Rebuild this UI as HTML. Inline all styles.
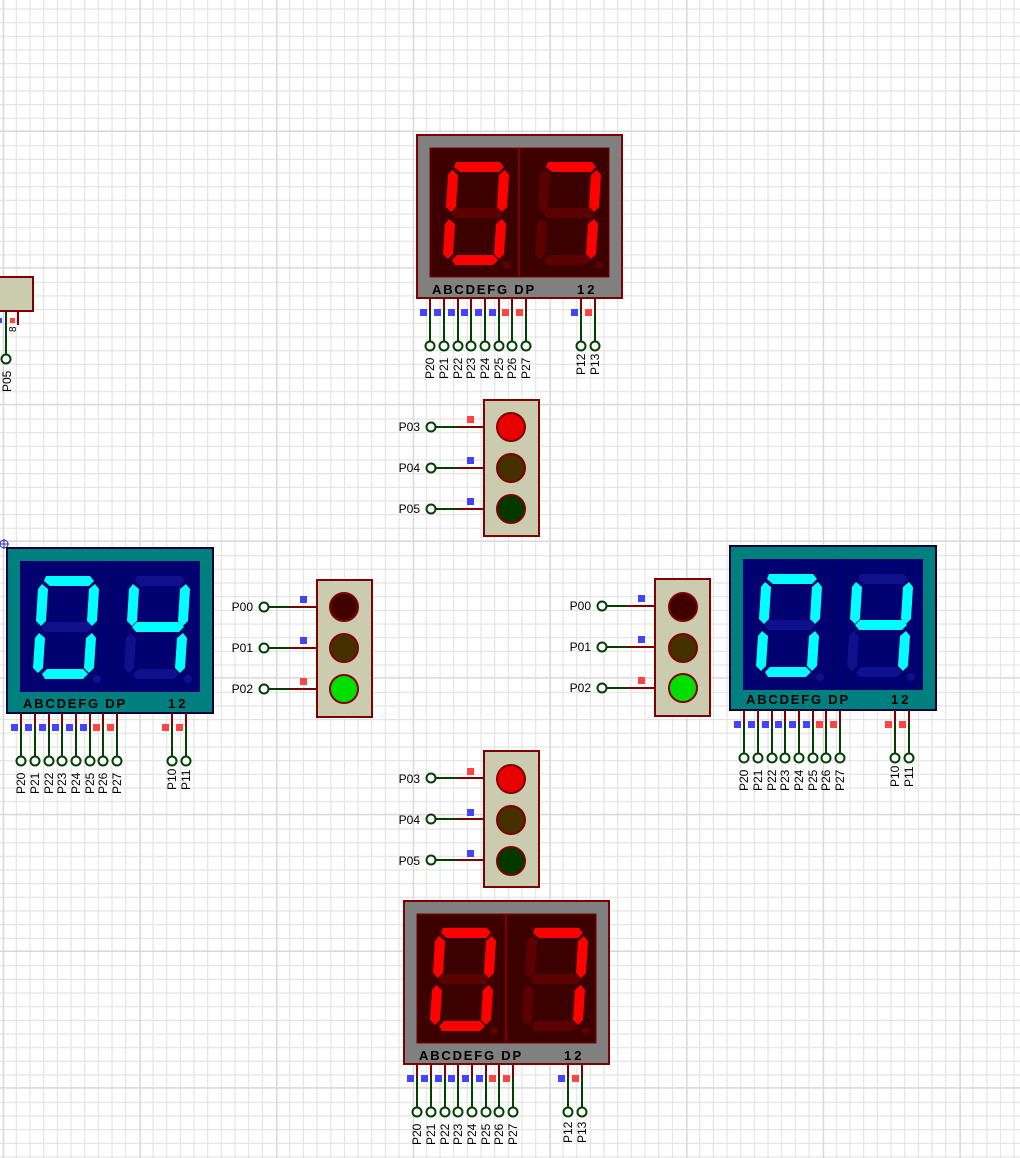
<!DOCTYPE html>
<html><head><meta charset="utf-8"><style>
html,body{margin:0;padding:0;background:#fff;}
svg{display:block;font-family:"Liberation Sans",sans-serif;}
</style></head><body>
<svg width="1020" height="1158" viewBox="0 0 1020 1158" xmlns="http://www.w3.org/2000/svg" xmlns:xlink="http://www.w3.org/1999/xlink">
<defs>
<pattern id="grid" x="2.7" y="-4.7" width="136.67" height="136.67" patternUnits="userSpaceOnUse">
<g stroke="#e0e0e0" stroke-width="1">
<path d="M13.67 0V136.67M27.33 0V136.67M41 0V136.67M54.67 0V136.67M68.33 0V136.67M82 0V136.67M95.67 0V136.67M109.33 0V136.67M123 0V136.67"/>
<path d="M0 13.67H136.67M0 27.33H136.67M0 41H136.67M0 54.67H136.67M0 68.33H136.67M0 82H136.67M0 95.67H136.67M0 109.33H136.67M0 123H136.67"/>
</g>
<path d="M0.5 0V136.67M0 136.17H136.67" stroke="#d8d8d8" stroke-width="2"/>
</pattern>
<polygon id="sa" points="10,0 54,0 58,5 53,10 14,10 8,5"/>
<polygon id="sf" points="6,8 12,13 10,45 5,50 0,45 2,13"/>
<polygon id="sb" points="59,8 63,13 61,45 56,50 51,45 53,13"/>
<polygon id="sg" points="5,51 10,46 52,46 57,51 52,56 9,56"/>
<polygon id="se" points="3,57 9,62 7,92 2,97 -3,92 -1,62"/>
<polygon id="sc" points="56,57 60,62 58,92 53,97 48,92 50,62"/>
<polygon id="sd" points="6,98 11,93 47,93 52,98 47,103 9,103"/>
</defs>
<rect width="1020" height="1158" fill="url(#grid)"/>

<!-- partial left component -->
<rect x="-5" y="277" width="38" height="34" fill="#cbcbaf" stroke="#800000" stroke-width="2"/>
<line x1="6" y1="311" x2="6" y2="355" stroke="#004000" stroke-width="2"/>
<line x1="18" y1="311" x2="18" y2="325" stroke="#800000" stroke-width="2"/>
<rect x="-1" y="318" width="3" height="5" fill="#4444ff"/>
<rect x="10" y="318" width="5" height="5" fill="#ff4444"/>
<circle cx="6" cy="359" r="4.5" fill="#fff" stroke="#004000" stroke-width="2"/>
<text transform="translate(16,332) rotate(-90)" font-size="10">8</text>
<text transform="translate(11,392) rotate(-90)" font-size="12">P05</text>
<g stroke="#3030c0" fill="none" stroke-width="1"><circle cx="4" cy="544" r="4"/><path d="M-1 544H9M4 539V549"/></g>

<!-- ===== TOP DISPLAY (red) ===== -->
<g transform="translate(417,135)">
<rect x="0" y="0" width="205" height="163" fill="#808080" stroke="#800000" stroke-width="2"/>
<rect x="13" y="13" width="179" height="129" fill="#3c0000" stroke="#800000" stroke-width="1"/>
<line x1="102" y1="13" x2="102" y2="142" stroke="#800000" stroke-width="2"/>
<g transform="translate(29,27)">
<use xlink:href="#sa" fill="#ff0000"/><use xlink:href="#sb" fill="#ff0000"/><use xlink:href="#sc" fill="#ff0000"/><use xlink:href="#sd" fill="#ff0000"/><use xlink:href="#se" fill="#ff0000"/><use xlink:href="#sf" fill="#ff0000"/><use xlink:href="#sg" fill="#5c0000"/><circle cx="61" cy="103" r="4" fill="#5c0000"/></g>
<g transform="translate(121,27)">
<use xlink:href="#sa" fill="#ff0000"/><use xlink:href="#sb" fill="#ff0000"/><use xlink:href="#sc" fill="#ff0000"/><use xlink:href="#sd" fill="#5c0000"/><use xlink:href="#se" fill="#5c0000"/><use xlink:href="#sf" fill="#5c0000"/><use xlink:href="#sg" fill="#5c0000"/><circle cx="61" cy="103" r="4" fill="#5c0000"/></g>
<text x="15" y="159" font-size="13" font-weight="bold" letter-spacing="1.8">ABCDEFG  DP</text>
<text x="160" y="159" font-size="13" font-weight="bold" letter-spacing="3">12</text>
</g>
<!-- ===== BOTTOM DISPLAY (red) ===== -->
<g transform="translate(404,901)">
<rect x="0" y="0" width="205" height="163" fill="#808080" stroke="#800000" stroke-width="2"/>
<rect x="13" y="13" width="179" height="129" fill="#3c0000" stroke="#800000" stroke-width="1"/>
<line x1="102" y1="13" x2="102" y2="142" stroke="#800000" stroke-width="2"/>
<g transform="translate(29,27)">
<use xlink:href="#sa" fill="#ff0000"/><use xlink:href="#sb" fill="#ff0000"/><use xlink:href="#sc" fill="#ff0000"/><use xlink:href="#sd" fill="#ff0000"/><use xlink:href="#se" fill="#ff0000"/><use xlink:href="#sf" fill="#ff0000"/><use xlink:href="#sg" fill="#5c0000"/><circle cx="61" cy="103" r="4" fill="#5c0000"/></g>
<g transform="translate(121,27)">
<use xlink:href="#sa" fill="#ff0000"/><use xlink:href="#sb" fill="#ff0000"/><use xlink:href="#sc" fill="#ff0000"/><use xlink:href="#sd" fill="#5c0000"/><use xlink:href="#se" fill="#5c0000"/><use xlink:href="#sf" fill="#5c0000"/><use xlink:href="#sg" fill="#5c0000"/><circle cx="61" cy="103" r="4" fill="#5c0000"/></g>
<text x="15" y="159" font-size="13" font-weight="bold" letter-spacing="1.8">ABCDEFG  DP</text>
<text x="160" y="159" font-size="13" font-weight="bold" letter-spacing="3">12</text>
</g>
<!-- ===== LEFT DISPLAY (blue) ===== -->
<g transform="translate(7,548)">
<rect x="0" y="0" width="206" height="165" fill="#007f7f" stroke="#000040" stroke-width="2"/>
<rect x="13" y="13" width="180" height="131" fill="#000070"/>
<line x1="103" y1="13" x2="103" y2="144" stroke="#000050" stroke-width="1"/>
<g transform="translate(29,28)">
<use xlink:href="#sa" fill="#00ffff"/><use xlink:href="#sb" fill="#00ffff"/><use xlink:href="#sc" fill="#00ffff"/><use xlink:href="#sd" fill="#00ffff"/><use xlink:href="#se" fill="#00ffff"/><use xlink:href="#sf" fill="#00ffff"/><use xlink:href="#sg" fill="#10108c"/><circle cx="61" cy="103" r="4" fill="#10108c"/></g>
<g transform="translate(120,28)">
<use xlink:href="#sa" fill="#10108c"/><use xlink:href="#sb" fill="#00ffff"/><use xlink:href="#sc" fill="#00ffff"/><use xlink:href="#sd" fill="#10108c"/><use xlink:href="#se" fill="#10108c"/><use xlink:href="#sf" fill="#00ffff"/><use xlink:href="#sg" fill="#00ffff"/><circle cx="61" cy="103" r="4" fill="#10108c"/></g>
<text x="16" y="160" font-size="13" font-weight="bold" letter-spacing="1.8">ABCDEFG  DP</text>
<text x="161" y="160" font-size="13" font-weight="bold" letter-spacing="3">12</text>
</g>
<!-- ===== RIGHT DISPLAY (blue) ===== -->
<g transform="translate(730,546)">
<rect x="0" y="0" width="206" height="164" fill="#007f7f" stroke="#000040" stroke-width="2"/>
<rect x="13" y="13" width="180" height="131" fill="#000070"/>
<line x1="103" y1="13" x2="103" y2="144" stroke="#000050" stroke-width="1"/>
<g transform="translate(29,28)">
<use xlink:href="#sa" fill="#00ffff"/><use xlink:href="#sb" fill="#00ffff"/><use xlink:href="#sc" fill="#00ffff"/><use xlink:href="#sd" fill="#00ffff"/><use xlink:href="#se" fill="#00ffff"/><use xlink:href="#sf" fill="#00ffff"/><use xlink:href="#sg" fill="#10108c"/><circle cx="61" cy="103" r="4" fill="#10108c"/></g>
<g transform="translate(120,28)">
<use xlink:href="#sa" fill="#10108c"/><use xlink:href="#sb" fill="#00ffff"/><use xlink:href="#sc" fill="#00ffff"/><use xlink:href="#sd" fill="#10108c"/><use xlink:href="#se" fill="#10108c"/><use xlink:href="#sf" fill="#00ffff"/><use xlink:href="#sg" fill="#00ffff"/><circle cx="61" cy="103" r="4" fill="#10108c"/></g>
<text x="16" y="158" font-size="13" font-weight="bold" letter-spacing="1.8">ABCDEFG  DP</text>
<text x="161" y="158" font-size="13" font-weight="bold" letter-spacing="3">12</text>
</g>

<defs>
<g id="pins">
<g stroke-width="2" fill="none">
<path d="M13 0V13M27 0V13M41 0V13M54 0V13M68 0V13M82 0V13M95 0V13M109 0V13M164 0V13M178 0V13" stroke="#800000"/>
<path d="M13 13V44M27 13V44M41 13V44M54 13V44M68 13V44M82 13V44M95 13V44M109 13V44M164 13V44M178 13V44" stroke="#004000"/>
</g>
<g fill="#4444ff"><rect x="3" y="11" width="7" height="7"/><rect x="17" y="11" width="7" height="7"/><rect x="31" y="11" width="7" height="7"/><rect x="44" y="11" width="7" height="7"/><rect x="58" y="11" width="7" height="7"/><rect x="72" y="11" width="7" height="7"/></g>
<g fill="#ff4444"><rect x="85" y="11" width="7" height="7"/><rect x="99" y="11" width="7" height="7"/><rect x="168" y="11" width="7" height="7"/></g>
<g fill="#fff" stroke="#004000" stroke-width="2"><circle cx="13" cy="48" r="4.5"/><circle cx="27" cy="48" r="4.5"/><circle cx="41" cy="48" r="4.5"/><circle cx="54" cy="48" r="4.5"/><circle cx="68" cy="48" r="4.5"/><circle cx="82" cy="48" r="4.5"/><circle cx="95" cy="48" r="4.5"/><circle cx="109" cy="48" r="4.5"/><circle cx="164" cy="48" r="4.5"/><circle cx="178" cy="48" r="4.5"/></g>
<g font-size="12">
<text transform="translate(17,81) rotate(-90)">P20</text><text transform="translate(31,81) rotate(-90)">P21</text><text transform="translate(45,81) rotate(-90)">P22</text><text transform="translate(58,81) rotate(-90)">P23</text><text transform="translate(72,81) rotate(-90)">P24</text><text transform="translate(86,81) rotate(-90)">P25</text><text transform="translate(99,81) rotate(-90)">P26</text><text transform="translate(113,81) rotate(-90)">P27</text>
</g>
</g>
</defs>
<g transform="translate(417,298)"><use xlink:href="#pins"/><rect x="154" y="11" width="7" height="7" fill="#4444ff"/>
<g font-size="12"><text transform="translate(168,77) rotate(-90)">P12</text><text transform="translate(182,77) rotate(-90)">P13</text></g></g>
<g transform="translate(404,1064)"><use xlink:href="#pins"/><rect x="154" y="11" width="7" height="7" fill="#4444ff"/>
<g font-size="12"><text transform="translate(168,79) rotate(-90)">P12</text><text transform="translate(182,79) rotate(-90)">P13</text></g></g>
<g transform="translate(8,713)"><use xlink:href="#pins"/><rect x="154" y="11" width="7" height="7" fill="#ff4444"/>
<g font-size="12"><text transform="translate(168,77) rotate(-90)">P10</text><text transform="translate(182,77) rotate(-90)">P11</text></g></g>
<g transform="translate(731,710)"><use xlink:href="#pins"/><rect x="154" y="11" width="7" height="7" fill="#ff4444"/>
<g font-size="12"><text transform="translate(168,77) rotate(-90)">P10</text><text transform="translate(182,77) rotate(-90)">P11</text></g></g>

<defs>
<g id="tlpins">
<g stroke-width="2"><path d="M-50 27H-27M-50 68H-27M-50 109H-27" stroke="#004000"/><path d="M-27 27H0M-27 68H0M-27 109H0" stroke="#800000"/></g>
<g fill="#fff" stroke="#004000" stroke-width="2"><circle cx="-53" cy="27" r="4.5"/><circle cx="-53" cy="68" r="4.5"/><circle cx="-53" cy="109" r="4.5"/></g>
</g>
</defs>
<g transform="translate(484,400)">
<use xlink:href="#tlpins"/>
<rect x="0" y="0" width="55" height="136" fill="#cbcbaf" stroke="#800000" stroke-width="2"/>
<circle cx="27" cy="27" r="14" fill="#e80000" stroke="#800000" stroke-width="2"/>
<circle cx="27" cy="68" r="14" fill="#453000" stroke="#800000" stroke-width="2"/>
<circle cx="27" cy="109" r="14" fill="#003800" stroke="#800000" stroke-width="2"/>
<rect x="-17" y="16" width="7" height="7" fill="#ff4444"/><rect x="-17" y="57" width="7" height="7" fill="#4444ff"/><rect x="-17" y="98" width="7" height="7" fill="#4444ff"/>
<g font-size="12" text-anchor="end"><text x="-64" y="31">P03</text><text x="-64" y="72">P04</text><text x="-64" y="113">P05</text></g>
</g>
<g transform="translate(484,751)">
<use xlink:href="#tlpins"/>
<rect x="0" y="0" width="55" height="136" fill="#cbcbaf" stroke="#800000" stroke-width="2"/>
<circle cx="27" cy="28" r="14" fill="#e80000" stroke="#800000" stroke-width="2"/>
<circle cx="27" cy="69" r="14" fill="#453000" stroke="#800000" stroke-width="2"/>
<circle cx="27" cy="110" r="14" fill="#003800" stroke="#800000" stroke-width="2"/>
<rect x="-17" y="17" width="7" height="7" fill="#ff4444"/><rect x="-17" y="58" width="7" height="7" fill="#4444ff"/><rect x="-17" y="99" width="7" height="7" fill="#4444ff"/>
<g font-size="12" text-anchor="end"><text x="-64" y="32">P03</text><text x="-64" y="73">P04</text><text x="-64" y="114">P05</text></g>
</g>
<g transform="translate(317,580)">
<use xlink:href="#tlpins"/>
<rect x="0" y="0" width="55" height="137" fill="#cbcbaf" stroke="#800000" stroke-width="2"/>
<circle cx="27" cy="27" r="14" fill="#400000" stroke="#800000" stroke-width="2"/>
<circle cx="27" cy="68" r="14" fill="#453000" stroke="#800000" stroke-width="2"/>
<circle cx="27" cy="109" r="14" fill="#00e000" stroke="#800000" stroke-width="2"/>
<rect x="-17" y="16" width="7" height="7" fill="#4444ff"/><rect x="-17" y="57" width="7" height="7" fill="#4444ff"/><rect x="-17" y="98" width="7" height="7" fill="#ff4444"/>
<g font-size="12" text-anchor="end"><text x="-64" y="31">P00</text><text x="-64" y="72">P01</text><text x="-64" y="113">P02</text></g>
</g>
<g transform="translate(655,579)">
<use xlink:href="#tlpins"/>
<rect x="0" y="0" width="55" height="137" fill="#cbcbaf" stroke="#800000" stroke-width="2"/>
<circle cx="28" cy="28" r="14" fill="#400000" stroke="#800000" stroke-width="2"/>
<circle cx="28" cy="69" r="14" fill="#453000" stroke="#800000" stroke-width="2"/>
<circle cx="28" cy="109" r="14" fill="#00e000" stroke="#800000" stroke-width="2"/>
<rect x="-17" y="16" width="7" height="7" fill="#4444ff"/><rect x="-17" y="57" width="7" height="7" fill="#4444ff"/><rect x="-17" y="98" width="7" height="7" fill="#ff4444"/>
<g font-size="12" text-anchor="end"><text x="-64" y="31">P00</text><text x="-64" y="72">P01</text><text x="-64" y="113">P02</text></g>
</g>
</svg>
</body></html>
